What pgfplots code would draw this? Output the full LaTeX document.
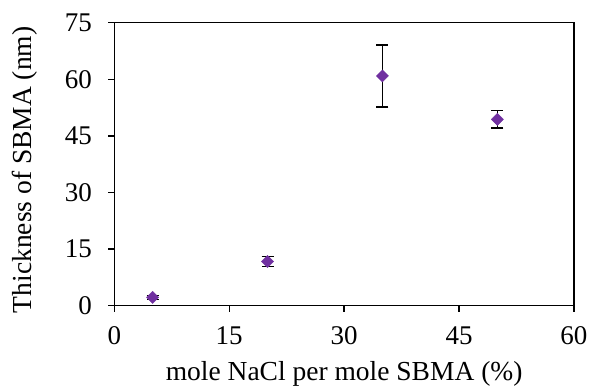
\documentclass[border=0pt]{standalone}
\usepackage{pgfplots}
\pgfplotsset{compat=1.18}
\usepackage{fontspec}
\setmainfont{Liberation Serif}
\usetikzlibrary{calc}
\definecolor{mpurple}{HTML}{7030A0}
\begin{document}
\begin{tikzpicture}
\begin{axis}[
  name=ax,
  scale only axis,
  width=459.7pt, height=283pt,
  xmin=0, xmax=60, ymin=0, ymax=75,
  xtick={0,15,30,45,60}, ytick={0,15,30,45,60,75},
  tick pos=left,
  tick align=outside,
  major tick length=6pt,
  axis line style={line width=1.3pt},
  every tick/.style={line width=1.3pt, black},
  /pgf/number format/assume math mode=true,
  tick label style={font=\fontsize{27}{30}\selectfont},
  xticklabel style={yshift=-11pt},
  yticklabel style={xshift=-13pt},
  label style={font=\fontsize{27.5}{30}\selectfont},
  xlabel={mole NaCl per mole SBMA (\%)},
  ylabel={Thickness of SBMA (nm)},
  xlabel style={at={(axis description cs:0.5,-0.266)}, anchor=base},
  ylabel style={at={(axis description cs:-0.194,0.48)}, anchor=center},
]
\addplot[
  only marks,
  mark=square*,
  mark size=4.3pt,
  mark options={fill=mpurple, draw=mpurple, rotate=45},
  error bars/.cd,
    y dir=both, y explicit,
    error bar style={line width=1.3pt, black},
    error mark options={rotate=90, mark size=6pt, line width=1.3pt, black},
] coordinates {
  (5,2.2) +- (0,0.5)
  (20,11.7) +- (0,1.4)
  (35,60.9) +- (0,8.2)
  (50,49.4) +- (0,2.3)
};
\end{axis}
\pgfresetboundingbox
\path ($(ax.south west)+(-114.3pt,-82.3pt)$) rectangle ++(590pt,388pt);
\end{tikzpicture}
\end{document}
